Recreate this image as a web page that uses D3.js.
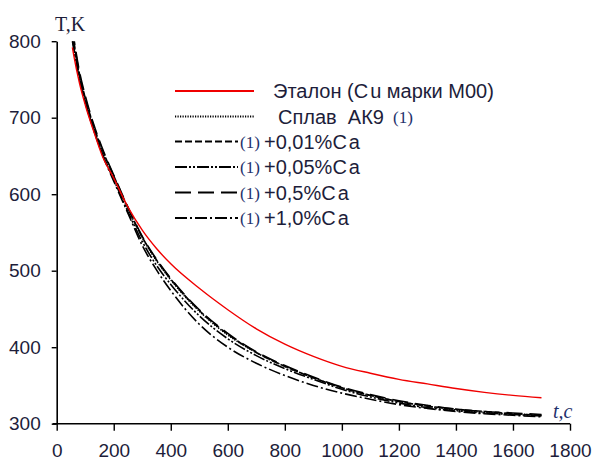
<!DOCTYPE html>
<html>
  <head>
    <meta charset="utf-8">
    <title>T(t) cooling curves</title>
    <script src="https://d3js.org/d3.v7.min.js"></script>
    <style>
      body { margin: 0; background: #fff; }
      text { font-family: "Liberation Sans", Arial, sans-serif; }
    </style>
  </head>
  <body>
    <script>
    // time, s
    var time = [55, 60, 80, 100, 130, 160, 200, 250, 300, 350, 400, 500, 600, 700, 800, 900, 1000, 1100, 1200, 1300, 1400, 1500, 1600, 1700]

    // temperature, K
    var etalon = [792, 781, 745, 717, 682, 650, 621, 583, 553, 529, 509, 477, 449, 424, 404, 388, 375, 366, 358, 352, 346, 341, 337, 334]
    var ak9    = [806, 795, 754, 724, 687, 656, 622, 581, 543, 513, 488, 447, 416, 393, 375, 360, 347, 337, 329, 323, 318, 315, 313, 311]
    var ca001  = [812, 800, 757, 726, 689, 658, 624, 582, 544, 514, 489, 448, 417, 393, 375, 360, 347, 337, 329, 323, 319, 316, 313, 311]
    var ca005  = [800, 790, 750, 720, 684, 653, 619, 577, 538, 507, 482, 441, 411, 389, 372, 358, 345, 335, 327, 321, 317, 314, 312, 310]
    var ca05   = [816, 804, 760, 729, 691, 660, 625, 583, 545, 515, 490, 449, 418, 394, 376, 361, 348, 338, 330, 324, 319, 316, 314, 312]
    var ca10   = [803, 792, 751, 721, 684, 652, 617, 575, 533, 501, 474, 430, 400, 379, 363, 350, 340, 332, 325, 320, 316, 313, 311, 309]

    var xTicks = [0, 200, 400, 600, 800, 1000, 1200, 1400, 1600, 1800]
    var yTicks = [300, 400, 500, 600, 700, 800]

    var legendNames = ["Эталон (Cu марки М00)", "Сплав\u00a0\u00a0АК9", "+0,01%Ca", "+0,05%Ca", "+0,5%Ca", "+1,0%Ca"]

    var series = [
      {name: legendNames[0], values: etalon, color: "#f00000", dash: null, w: 1.4},
      {name: legendNames[1], values: ak9, color: "#000", dash: "1.2,1.3", w: 1.6},
      {name: legendNames[2], values: ca001, color: "#000", dash: "7,3", w: 1.6},
      {name: legendNames[3], values: ca005, color: "#000", dash: "12,2,2,2,2,2", w: 1.6},
      {name: legendNames[4], values: ca05, color: "#000", dash: "16,7", w: 1.6},
      {name: legendNames[5], values: ca10, color: "#000", dash: "12,3,2,3", w: 1.6}
    ]

    var width = 594
        height = 461

    var x = d3.scaleLinear().domain([0, 1800]).range([56.7, 570])
    var y = d3.scaleLinear().domain([300, 800]).range([423.7, 41.2])

    var svg = d3.select("body").append("svg")
                .attr("width", width)
                .attr("height", height)

    svg.append("clipPath").attr("id", "plot")
      .append("rect")
      .attr("x", x(0)).attr("y", y(800))
      .attr("width", x(1800) - x(0)).attr("height", y(300) - y(800))

    var line = d3.line()
                 .x(function(d, i) { return x(time[i]) })
                 .y(function(d) { return y(d) })
                 .curve(d3.curveMonotoneX)

    // black curves first, red on top
    var order = [1, 2, 3, 4, 5, 0]
    svg.append("g").attr("clip-path", "url(#plot)")
      .selectAll("path")
      .data(order.map(function(i) { return series[i] }))
      .enter().append("path")
      .attr("d", function(d) { return line(d.values) })
      .attr("fill", "none")
      .attr("stroke", function(d) { return d.color })
      .attr("stroke-width", function(d) { return d.w })
      .attr("stroke-dasharray", function(d) { return d.dash })

    // axes
    var xAxis = d3.axisBottom(x).tickValues(xTicks).tickFormat(d3.format("d"))
                  .tickSize(7).tickPadding(10).tickSizeOuter(0)
    var yAxis = d3.axisLeft(y).tickValues(yTicks).tickFormat(d3.format("d"))
                  .tickSize(5).tickPadding(11).tickSizeOuter(0)

    var gx = svg.append("g").attr("transform", "translate(0," + y(300) + ")").call(xAxis)
    var gy = svg.append("g").attr("transform", "translate(" + x(0) + ",0)").call(yAxis)

    ;[gx, gy].forEach(function(g) {
      g.select(".domain").attr("stroke", "#000").attr("stroke-width", 1.6)
      g.selectAll(".tick line").attr("stroke", "#000").attr("stroke-width", 1.4)
      g.selectAll(".tick text")
        .attr("fill", "#1d1d3a")
        .style("font-size", "19px")
        .style("font-family", "'Liberation Sans', Arial, sans-serif")
    })
    gx.selectAll(".tick text").attr("dy", "0.85em")
    // extend x axis a little left of the y axis
    gx.select(".domain").attr("d", "M" + (x(0) - 4) + ",0H" + x(1800))

    // axis titles
    svg.append("text")
      .attr("x", 55).attr("y", 31)
      .attr("fill", "#1d1d3a")
      .style("font-family", "'Liberation Serif', 'Times New Roman', serif")
      .style("font-size", "20px")
      .text("T,K")

    svg.append("text")
      .attr("x", 553).attr("y", 418)
      .attr("fill", "#23306b")
      .style("font-family", "'Liberation Serif', 'Times New Roman', serif")
      .style("font-style", "italic")
      .style("font-size", "20px")
      .text("t,c")

    // legend
    var rowY = [91, 116.5, 141.5, 167, 192.5, 218]
    var leg = svg.append("g")
    series.forEach(function(s, i) {
      var x2 = i < 2 ? 254 : 238
      leg.append("line")
        .attr("x1", 175).attr("x2", x2)
        .attr("y1", rowY[i]).attr("y2", rowY[i])
        .attr("stroke", s.color)
        .attr("stroke-width", i == 0 ? 1.8 : 2)
        .attr("stroke-dasharray", s.dash)

      var tx = i == 0 ? 273 : (i == 1 ? 278 : 264)
      var t = leg.append("text")
        .attr("x", tx).attr("y", rowY[i] + 7)
        .attr("fill", "#1d1d3a")
        .style("font-size", "20px")
      // the source puts a small gap after "C"
      var k = s.name.indexOf("C")
      if (k >= 0) {
        t.append("tspan").text(s.name.slice(0, k + 1))
        t.append("tspan").attr("dx", 2).text(s.name.slice(k + 1))
      } else {
        t.text(s.name)
      }

      if (i > 0) {
        leg.append("text")
          .attr("x", i == 1 ? 393 : 240).attr("y", rowY[i] + 6)
          .attr("fill", "#23306b")
          .style("font-family", "'Liberation Serif', 'Times New Roman', serif")
          .style("font-size", "17px")
          .text("(1)")
      }
    })
    </script>
  </body>
</html>
